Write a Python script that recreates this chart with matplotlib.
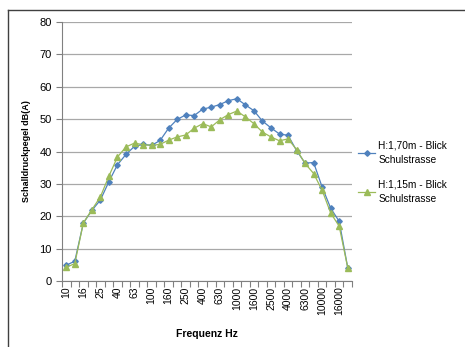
import numpy as np
import matplotlib.pyplot as plt
from matplotlib.lines import Line2D

plt.rcParams.update({
    "font.size": 7.5,
    "font.family": ["Liberation Sans", "DejaVu Sans"],
})

# -------------------- DATA --------------------
freqs = ["10", "12.5", "16", "20", "25", "31.5", "40", "50", "63", "80",
         "100", "125", "160", "200", "250", "315", "400", "500", "630", "800",
         "1000", "1250", "1600", "2000", "2500", "3150", "4000", "5000", "6300", "8000",
         "10000", "12500", "16000", "20000"]

h170 = [4.9, 6.1, 17.9, 21.8, 25.0, 30.7, 35.9, 39.1, 41.6, 42.2,
        41.9, 43.4, 47.2, 49.9, 51.3, 51.1, 53.1, 53.7, 54.5, 55.7,
        56.3, 54.4, 52.6, 49.4, 47.3, 45.4, 45.0, 40.3, 36.4, 36.6,
        29.0, 22.5, 18.4, 4.1]

h115 = [4.2, 5.4, 17.9, 22.0, 26.0, 32.4, 38.3, 41.4, 42.6, 42.1,
        41.9, 42.2, 43.5, 44.5, 45.1, 47.2, 48.6, 47.6, 49.8, 51.4,
        52.5, 50.7, 48.6, 46.0, 44.5, 43.3, 43.9, 40.6, 36.3, 33.2,
        28.0, 21.0, 16.9, 4.1]

labels = ["H:1,70m - Blick\nSchulstrasse", "H:1,15m - Blick\nSchulstrasse"]

# -------------------- FIGURE --------------------
fig = plt.figure(figsize=(4.65, 3.47), dpi=100)

# outer chart frame (only top/left visible in the crop)
fig.add_artist(Line2D([8/465, 8/465], [0, 1 - 10/347], transform=fig.transFigure,
                      color="#404040", lw=1.0))
fig.add_artist(Line2D([8/465, 1], [1 - 10/347, 1 - 10/347], transform=fig.transFigure,
                      color="#404040", lw=1.0))

ax = fig.add_axes([62/465, 1 - 281/347, (352 - 62)/465, (281 - 22)/347])

x = np.arange(len(freqs))
ax.plot(x, h170, color="#4F81BD", marker="D", markersize=2.8, lw=0.9, label=labels[0])
ax.plot(x, h115, color="#9BBB59", marker="^", markersize=3.8, lw=0.9, label=labels[1])

ax.set_xlim(-0.5, len(freqs) - 0.5)
ax.set_ylim(0, 80)
ax.set_yticks(range(0, 81, 10))
ax.yaxis.grid(True, color="#a8a8a8", lw=0.9)
ax.set_axisbelow(True)

# x: tick marks at category borders, labels on every other category
ax.set_xticks(np.arange(-0.5, len(freqs)), minor=False)
ax.set_xticklabels([])
ax.set_xticks(x[::2], minor=True)
ax.set_xticklabels(freqs[::2], minor=True, rotation=90)
ax.tick_params(axis="x", which="major", length=4, color="#808080", direction="out")
ax.tick_params(axis="x", which="minor", length=0, pad=4, labelsize=7.5)
ax.tick_params(axis="y", length=4, color="#808080", labelsize=8)

for s in ["top", "right"]:
    ax.spines[s].set_visible(False)
for s in ["left", "bottom"]:
    ax.spines[s].set_color("#808080")

ax.set_ylabel("Schalldruckpegel dB(A)", fontweight="bold", fontsize=6.5, labelpad=6)
ax.set_xlabel("Frequenz Hz", fontweight="bold", fontsize=7.5, labelpad=10)

leg = ax.legend(loc="center left", bbox_to_anchor=(1.0, 0.42), frameon=False,
                fontsize=7.3, handlelength=1.7, handletextpad=0.3, labelspacing=1.45,
                borderaxespad=0.2)
for t in leg.get_texts():
    t.set_linespacing(1.55)

plt.savefig("out.png", dpi=100)
